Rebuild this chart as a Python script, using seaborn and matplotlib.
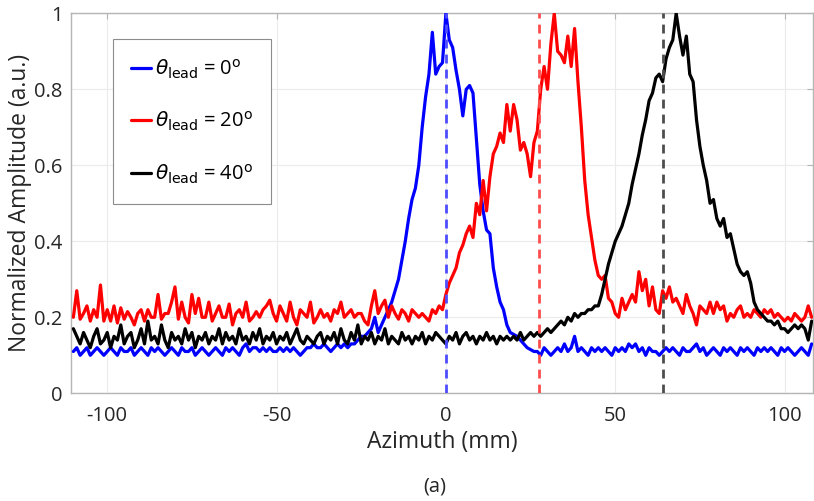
import numpy as np
import pandas as pd
import matplotlib
matplotlib.use("Agg")
import matplotlib.pyplot as plt
import seaborn as sns

# ---------------- data ----------------
azimuth_mm = np.arange(-110, 109)  # 1 mm grid, -110 .. 108

blue_0deg = (
    [0.11,0.12,0.10,0.11,0.12,0.10,0.11,0.12,0.11,0.10,
     0.11,0.12,0.11,0.10,0.12,0.11,0.11,0.12,0.10,0.11,
     0.12,0.11,0.10,0.12,0.11,0.12,0.11,0.10,0.11,0.12,
     0.11,0.10,0.12,0.11,0.11,0.12,0.10,0.11,0.12,0.11,
     0.10,0.11,0.12,0.11,0.10,0.12,0.11,0.12,0.11,0.10,
     0.12,0.13,0.11,0.12,0.12,0.11,0.12,0.11,0.12,0.11,
     0.11,0.12,0.11,0.12,0.11,0.12,0.11,0.10,0.11,0.12,
     0.12,0.13,0.12,0.12,0.13,0.12,0.11,0.12,0.13,0.12,
     0.13,0.12,0.13]
    + [0.13,0.14,0.15,0.15,0.16,0.17,0.20,0.16,0.18,0.20,
       0.22,0.24,0.27,0.30,0.35,0.40,0.46,0.51,0.54,0.60,
       0.70,0.78,0.84,0.95,0.84,0.86,0.87,1.00,0.93,0.91,
       0.85,0.80,0.73,0.80,0.81,0.79,0.67,0.55,0.48,0.43,
       0.42,0.33,0.28,0.24,0.22,0.18,0.16,0.155,0.15,0.14,
       0.13,0.12,0.115,0.11]
    + [0.11,0.10,0.12,0.11,0.10,0.11,0.12,0.11,0.13,0.11,
       0.12,0.15,0.11,0.12,0.11,0.10,0.12,0.11,0.12,0.11,
       0.12,0.11,0.10,0.12,0.11,0.12,0.11,0.13,0.12,0.13,
       0.11,0.12,0.10,0.12,0.11,0.11,0.10,0.11,0.12,0.11,
       0.12,0.11,0.10,0.12,0.11,0.11,0.12,0.13,0.11,0.12,
       0.10,0.11,0.12,0.11,0.10,0.12,0.11,0.12,0.11,0.10,
       0.12,0.11,0.12,0.11,0.10,0.12,0.11,0.12,0.11,0.12,
       0.11,0.10,0.12,0.11,0.12,0.11,0.10,0.11,0.12,0.11,
       0.10,0.13]
)

red_20deg = (
    [0.20,0.27,0.195,0.21,0.23,0.19,0.22,0.20,0.285,0.19,
     0.22,0.19,0.23,0.185,0.225,0.195,0.215,0.20,0.18,0.21,
     0.22,0.19,0.22,0.20,0.20,0.26,0.195,0.21,0.21,0.24,
     0.28,0.195,0.24,0.20,0.185,0.26,0.21,0.25,0.20,0.20,
     0.24,0.19,0.21,0.23,0.20,0.20,0.235,0.18,0.21,0.22,
     0.20,0.24,0.19,0.20,0.215,0.20,0.22,0.23,0.245,0.21,
     0.19,0.23,0.21,0.19,0.24,0.20,0.18,0.22,0.21,0.20,
     0.24,0.185,0.20,0.22,0.20,0.21,0.19,0.22,0.21,0.24,
     0.20,0.21,0.22,0.20,0.21,0.21,0.19,0.18,0.23,0.27,
     0.21,0.23,0.245,0.20,0.23,0.21,0.195,0.22,0.21,0.19,
     0.22,0.21,0.20,0.21,0.20]
    + [0.19,0.22,0.21,0.23,0.22,0.26,0.29,0.31,0.33,0.37,
       0.39,0.42,0.44,0.41,0.50,0.47,0.56,0.48,0.57,0.63,
       0.65,0.685,0.66,0.76,0.69,0.76,0.72,0.64,0.66,0.63,
       0.57,0.66,0.69,0.80,0.86,0.80,0.92,1.00,0.90,0.89,
       0.87,0.94,0.86,0.96,0.82,0.70,0.56,0.47,0.41,0.35,
       0.31,0.30,0.31,0.25,0.24,0.21,0.20,0.25,0.22,0.24,
       0.26,0.24,0.32,0.27,0.30,0.23,0.28,0.22,0.21,0.27,
       0.25,0.28,0.24,0.25,0.23,0.21,0.26,0.23,0.21,0.18,
       0.23,0.22,0.21,0.24,0.21,0.24,0.22,0.23,0.19,0.21,
       0.20,0.22,0.23,0.20,0.21,0.20,0.22,0.21,0.20,0.22,
       0.21,0.22,0.20,0.21,0.20,0.19,0.20,0.19,0.21,0.20,
       0.19,0.20,0.23,0.20]
)

black_40deg = (
    [0.17,0.15,0.13,0.16,0.14,0.12,0.15,0.17,0.13,0.14,
     0.16,0.12,0.15,0.14,0.18,0.13,0.15,0.16,0.12,0.14,
     0.17,0.13,0.19,0.14,0.15,0.13,0.18,0.14,0.12,0.16,
     0.14,0.15,0.13,0.17,0.14,0.16,0.12,0.15,0.14,0.16,
     0.13,0.15,0.14,0.17,0.13,0.16,0.14,0.15,0.13,0.17,
     0.14,0.15,0.13,0.16,0.14,0.17,0.13,0.15,0.14,0.16,
     0.13,0.15,0.14,0.16,0.13,0.15,0.17,0.14,0.13,0.15,
     0.14,0.13,0.15,0.16,0.13,0.15,0.14,0.16,0.13,0.17,
     0.14,0.13,0.16,0.14,0.18,0.13,0.15,0.14,0.16,0.13,
     0.15,0.14,0.17,0.13,0.15,0.14,0.13,0.16,0.14,0.15,
     0.13,0.15,0.14,0.16,0.13,0.15,0.14,0.16,0.15,0.14,
     0.13,0.15,0.14,0.16,0.13,0.15,0.16,0.14,0.15,0.13,
     0.15,0.14,0.16,0.14,0.15,0.13,0.15,0.14,0.15,0.14,
     0.15,0.14,0.16,0.14,0.15,0.16]
    + [0.15,0.16,0.15,0.16,0.17,0.16,0.17,0.18,0.19,0.18,
       0.20,0.19,0.21,0.20,0.21,0.21,0.22,0.22,0.23,0.23,
       0.26,0.30,0.34,0.37,0.40,0.42,0.44,0.47,0.50,0.55,
       0.59,0.63,0.68,0.72,0.77,0.79,0.83,0.84,0.82,0.88,
       0.91,0.93,1.00,0.94,0.89,0.94,0.84,0.82,0.72,0.65,
       0.60,0.56,0.50,0.51,0.46,0.44,0.46,0.41,0.42,0.38,
       0.34,0.32,0.31,0.32,0.29,0.24,0.22,0.21,0.20,0.19,
       0.19,0.18,0.19,0.17,0.17,0.16,0.17,0.18,0.17,0.18,
       0.17,0.14,0.19]
)

series_labels = [r"$\theta_{\rm lead}$ = 0$^{\rm o}$",
                 r"$\theta_{\rm lead}$ = 20$^{\rm o}$",
                 r"$\theta_{\rm lead}$ = 40$^{\rm o}$"]
series_colors = ["#0000ff", "#ff0000", "#000000"]
peak_marks_mm = [0.0, 27.6, 64.0]
x_ticks = [-100, -50, 0, 50, 100]
y_ticks = [0, 0.2, 0.4, 0.6, 0.8, 1]
y_tick_labels = ["0", "0.2", "0.4", "0.6", "0.8", "1"]

for s in (blue_0deg, red_20deg, black_40deg):
    assert len(s) == len(azimuth_mm), len(s)

df = pd.DataFrame({
    "Azimuth": np.concatenate([azimuth_mm] * 3),
    "Amplitude": np.concatenate([blue_0deg, red_20deg, black_40deg]),
    "Series": np.repeat(series_labels, len(azimuth_mm)),
})

# ---------------- plot ----------------
sns.set_theme(style="white")
plt.rcParams["font.family"] = ["Open Sans", "DejaVu Sans"]
plt.rcParams["mathtext.fontset"] = "dejavusans"
plt.rcParams["axes.unicode_minus"] = False
txt = "#262626"

fig = plt.figure(figsize=(8.14, 5.01), dpi=100)
ax = fig.add_axes([71/814, 1-393.3/501, (813-71)/814, (393.3-13.3)/501])

sns.lineplot(data=df, x="Azimuth", y="Amplitude", hue="Series",
             hue_order=series_labels, palette=series_colors,
             linewidth=2.3, ax=ax, zorder=3)

dash_cols = ["#4d4dff", "#ff4d4d", "#4d4d4d"]
for xm, c in zip(peak_marks_mm, dash_cols):
    ax.axvline(xm, color=c, lw=2.0, ls=(0, (3.2, 2.2)), zorder=4)

ax.set_xlim(-110.7, 108.4)
ax.set_ylim(0, 1)
ax.set_xticks(x_ticks)
ax.set_yticks(y_ticks)
ax.set_yticklabels(y_tick_labels)
ax.grid(True, color="#ebebeb", lw=0.8)
ax.set_axisbelow(True)
for sp in ax.spines.values():
    sp.set_color("#b5b5b5")
    sp.set_linewidth(1.0)
ax.tick_params(direction="in", length=4, width=0.8, color="#b5b5b5",
               top=True, right=True, labelsize=14.5, labelcolor=txt)
ax.tick_params(axis="x", pad=9)
ax.tick_params(axis="y", pad=6)
ax.set_xlabel("Azimuth (mm)", fontsize=16.5, color=txt, labelpad=3)
ax.set_ylabel("Normalized Amplitude (a.u.)", fontsize=16.5, color=txt, labelpad=2)

leg = ax.legend(loc="upper left", bbox_to_anchor=(0.056, 0.932),
                borderaxespad=0.0,
                fontsize=14.5, handlelength=1.0, handletextpad=0.2,
                labelspacing=1.45, borderpad=0.9, frameon=True,
                fancybox=False, framealpha=1)
leg.get_frame().set_edgecolor("#8c8c8c")
leg.get_frame().set_linewidth(0.8)
for t in leg.get_texts():
    t.set_color("black")

fig.text(0.5345, 0.028, "(a)", fontsize=14.5, fontstyle="normal",
         color=txt, ha="center", va="center")

fig.savefig("out.png", dpi=100)
